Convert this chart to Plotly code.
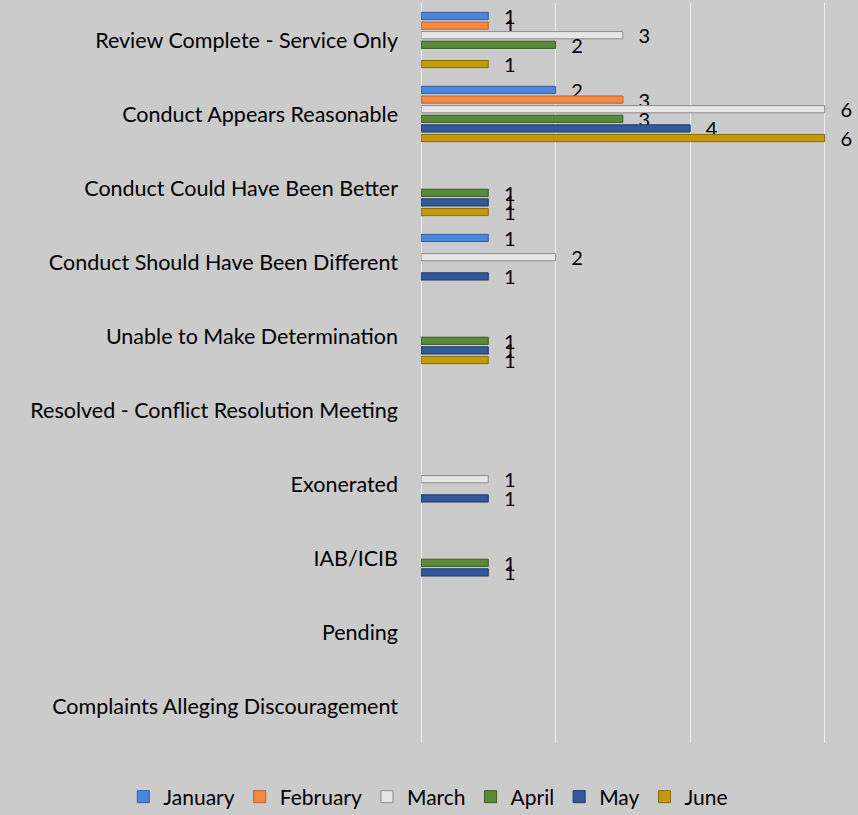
import plotly.graph_objects as go

categories = [
    'Review Complete - Service Only',
    'Conduct Appears Reasonable',
    'Conduct Could Have Been Better',
    'Conduct Should Have Been Different',
    'Unable to Make Determination',
    'Resolved - Conflict Resolution Meeting',
    'Exonerated',
    'IAB/ICIB',
    'Pending',
    'Complaints Alleging Discouragement',
]

january = [1, 2, None, 1, None, None, None, None, None, None]
february = [1, 3, None, None, None, None, None, None, None, None]
march = [3, 6, None, 2, None, None, 1, None, None, None]
april = [2, 3, 1, None, 1, None, None, 1, None, None]
may = [None, 4, 1, 1, 1, None, 1, 1, None, None]
june = [1, 6, 1, None, 1, None, None, None, None, None]

series = [
    ('January', january, '#4a86e0', '#2e5fa8'),
    ('February', february, '#f28a45', '#c0601f'),
    ('March', march, '#e6e6e6', '#8c8c8c'),
    ('April', april, '#5a8a3a', '#3a5e22'),
    ('May', may, '#32599a', '#1e3a6a'),
    ('June', june, '#c49a0c', '#8a6a00'),
]

fig = go.Figure()
for name, vals, color, edge in series:
    fig.add_trace(go.Bar(
        y=categories,
        x=vals,
        name=name,
        orientation='h',
        marker=dict(color=color, line=dict(color=edge, width=1)),
        text=[('' if v is None else '  \u2009' + str(v)) for v in vals],
        textposition='outside',
        textfont=dict(size=20, color='#000000'),
        constraintext='none',
        cliponaxis=False,
    ))

fig.update_layout(
    barmode='group',
    bargap=0.22,
    bargroupgap=0.25,
    width=858,
    height=815,
    plot_bgcolor='#cbcbcb',
    paper_bgcolor='#cbcbcb',
    font=dict(family='Lato, Calibri, sans-serif', size=18, color='#000000'),
    xaxis=dict(
        range=[0, 6.02],
        dtick=2,
        showticklabels=False,
        showgrid=True,
        gridcolor='#eeeeee',
        gridwidth=1,
        zeroline=True,
        zerolinecolor='#eeeeee',
        zerolinewidth=1,
    ),
    yaxis=dict(
        autorange='reversed',
        showgrid=False,
        ticks='',
        ticklabelstandoff=22,
        tickfont=dict(size=21.5),
    ),
    legend=dict(
        orientation='h',
        x=-0.735,
        xanchor='left',
        y=-0.073,
        yanchor='middle',
        traceorder='normal',
        font=dict(size=21),
        itemwidth=30,
    ),
    margin=dict(l=421, r=32, t=3, b=72, autoexpand=False),
)

fig.write_html(
    'out.html',
    config={'displayModeBar': False},
    post_script="document.body.style.margin='0';",
)
